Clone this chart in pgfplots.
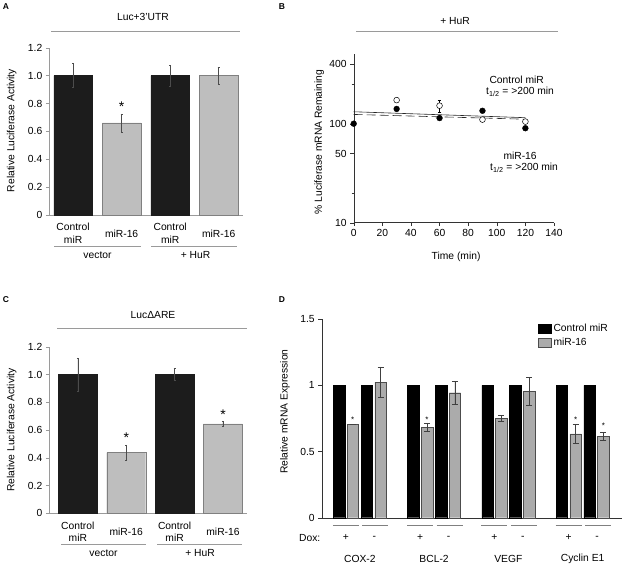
\documentclass[border=0pt]{standalone}
\usepackage{pgfplots}
\pgfplotsset{compat=1.18}
\usepackage{fontspec}
\setmainfont{Liberation Sans}
\definecolor{barblk}{HTML}{1C1C1C}
\definecolor{bargry}{HTML}{BEBEBE}
\definecolor{bargryD}{HTML}{ABABAB}
\definecolor{axgry}{HTML}{9A9A9A}
\newcommand{\fs}{\fontsize{10.3}{12.5}\selectfont}
\pgfplotsset{
  panel/.style={scale only axis, anchor=south west, axis x line*=bottom, axis y line*=left,
    clip=false, tick label style={font=\fs}, label style={font=\fs},
    /pgf/number format/assume math mode=true, tick align=outside, major tick length=3.5pt},
  sq legend/.style={legend image code/.code={\draw[##1] (0pt,-4.5pt) rectangle (13pt,4.5pt);}},
}
\begin{document}
\begin{tikzpicture}[x=1pt,y=1pt,font=\fs]
\useasboundingbox (0,0) rectangle (623,565);

% ---------------- Panel A ----------------
\begin{axis}[panel, at={(49.3pt,350pt)}, width=193.7pt, height=167.3pt,
  xmin=-0.49, xmax=3.5, ymin=0, ymax=1.2,
  ytick={0,0.2,0.4,0.6,0.8,1.0,1.2}, yticklabels={0,0.2,0.4,0.6,0.8,1.0,1.2},
  xtick={0,1,2,3}, xticklabels={{Control\\miR},{miR-16},{Control\\miR},{miR-16}},
  xticklabel style={align=center, anchor=center, yshift=-15pt},
  xtick style={draw=none}, ytick style={axgry},
  axis line style={axgry},
  ylabel={Relative Luciferase Activity},
  ylabel style={at={(axis description cs:-0.194,0.505)}, anchor=center}]
\addplot[ybar, bar width=38.5pt, bar shift=0pt, fill=barblk, draw=barblk,
  error bars/.cd, y dir=both, y explicit,
  error bar style={line width=0.5pt, black!70},
  error mark options={rotate=90, mark size=1pt, line width=0.5pt, black!70}]
  coordinates {(0,1.0) +- (0,0.085) (2,1.0) +- (0,0.075)};
\addplot[ybar, bar width=38.5pt, bar shift=0pt, fill=bargry, draw=gray,
  error bars/.cd, y dir=both, y explicit,
  error bar style={line width=0.5pt, black!70},
  error mark options={rotate=90, mark size=1pt, line width=0.5pt, black!70}]
  coordinates {(1,0.66) +- (0,0.065) (3,1.0) +- (0,0.06)};
\node[font=\fontsize{14}{14}\selectfont, anchor=base, yshift=-8pt] at (axis cs:1,0.80) {*};
\end{axis}

% ---------------- Panel B ----------------
\begin{axis}[panel, at={(353.7pt,342.3pt)}, width=200.3pt, height=168.2pt,
  ymode=log, xmin=0, xmax=140, ymin=10, ymax=500,
  xtick={0,20,40,60,80,100,120,140},
  ytick={10,50,100,400}, yticklabels={10,50,100,400},
  extra y ticks={20,250}, extra y tick labels={},
  extra y tick style={major tick length=2pt},
  axis line style={black!80}, tick style={black!80},
  xlabel={Time (min)},
  xlabel style={at={(axis description cs:0.511,-0.204)}, anchor=center},
  ylabel={\% Luciferase mRNA Remaining},
  ylabel style={at={(axis description cs:-0.172,0.48)}, anchor=center}]
\addplot[black!85, line width=0.6pt] coordinates {(0,132) (120,115)};
\addplot[black!85, line width=0.6pt, dash pattern=on 9pt off 4pt] coordinates {(0,124) (120,111)};
\addplot[only marks, mark=*, mark size=2.9pt, mark options={fill=white, draw=black, line width=0.5pt},
  error bars/.cd, y dir=both, y explicit,
  error bar style={line width=0.5pt, black},
  error mark options={rotate=90, mark size=1.8pt, line width=0.5pt, black}]
  coordinates {(30,173) +- (0,0) (60,152) +- (0,22) (90,110) +- (0,0) (120,105) +- (0,0)};
\addplot[only marks, mark=*, mark size=2.9pt, black] coordinates {(0,100) (30,141) (60,114) (90,135) (120,90)};
\end{axis}

% ---------------- Panel C ----------------
\begin{axis}[panel, at={(49.3pt,51.7pt)}, width=197.4pt, height=166.6pt,
  xmin=-0.59, xmax=3.49, ymin=0, ymax=1.2,
  ytick={0,0.2,0.4,0.6,0.8,1.0,1.2}, yticklabels={0,0.2,0.4,0.6,0.8,1.0,1.2},
  xtick={0,1,2,3}, xticklabels={{Control\\miR},{miR-16},{Control\\miR},{miR-16}},
  xticklabel style={align=center, anchor=center, yshift=-15pt},
  xtick style={draw=none}, ytick style={axgry},
  axis line style={axgry},
  ylabel={Relative Luciferase Activity},
  ylabel style={at={(axis description cs:-0.19,0.5)}, anchor=center}]
\addplot[ybar, bar width=39pt, bar shift=0pt, fill=barblk, draw=barblk,
  error bars/.cd, y dir=both, y explicit,
  error bar style={line width=0.5pt, black!70},
  error mark options={rotate=90, mark size=1pt, line width=0.5pt, black!70}]
  coordinates {(0,1.0) +- (0,0.12) (2,1.0) +- (0,0.045)};
\addplot[ybar, bar width=39pt, bar shift=0pt, fill=bargry, draw=gray,
  error bars/.cd, y dir=both, y explicit,
  error bar style={line width=0.5pt, black!70},
  error mark options={rotate=90, mark size=1pt, line width=0.5pt, black!70}]
  coordinates {(1,0.437) +- (0,0.055) (3,0.645) +- (0,0.02)};
\node[font=\fontsize{14}{14}\selectfont, anchor=base, yshift=-8pt] at (axis cs:1,0.564) {*};
\node[font=\fontsize{14}{14}\selectfont, anchor=base, yshift=-8pt] at (axis cs:3,0.732) {*};
\end{axis}

% ---------------- Panel D ----------------
\begin{axis}[panel, at={(321.7pt,47.3pt)}, width=300.3pt, height=198.4pt,
  xmin=-0.513, xmax=3.53, ymin=0, ymax=1.5,
  ytick={0,0.5,1,1.5}, yticklabels={0,0.5,1,1.5},
  xtick={0,1,2,3}, xticklabels={COX-2,BCL-2,VEGF,Cyclin E1},
  xticklabel style={anchor=center, yshift=-37.8pt},
  xtick style={draw=none}, ytick style={black!80},
  axis line style={black!80},
  ylabel={Relative mRNA Expression},
  ylabel style={at={(axis description cs:-0.122,0.535)}, anchor=center},
  legend style={draw=none, fill=none, at={(axis description cs:0.71,0.995)}, anchor=north west,
    font=\fs, row sep=1pt},
  legend cell align=left]
\addplot[ybar, bar width=11.5pt, bar shift=0pt, fill=black, draw=black, sq legend]
  coordinates {(-0.28,1) (0.095,1) (0.72,1) (1.095,1) (1.72,1) (2.095,1) (2.72,1) (3.095,1)};
\addlegendentry{Control miR}
\addplot[ybar, bar width=11.5pt, bar shift=0pt, fill=bargryD, draw=black!70, sq legend,
  error bars/.cd, y dir=both, y explicit,
  error bar style={line width=0.5pt, black!75},
  error mark options={rotate=90, mark size=3pt, line width=0.5pt, black!75}]
  coordinates {(-0.095,0.706) +- (0,0) (0.28,1.025) +- (0,0.115)
               (0.905,0.683) +- (0,0.03) (1.28,0.945) +- (0,0.09)
               (1.905,0.751) +- (0,0.02) (2.28,0.955) +- (0,0.105)
               (2.905,0.633) +- (0,0.07) (3.28,0.616) +- (0,0.03)};
\addlegendentry{miR-16}
\node[font=\fontsize{8}{8}\selectfont, anchor=base, yshift=-4.6pt] at (axis cs:-0.095,0.756) {*};
\node[font=\fontsize{8}{8}\selectfont, anchor=base, yshift=-4.6pt] at (axis cs:0.905,0.756) {*};
\node[font=\fontsize{8}{8}\selectfont, anchor=base, yshift=-4.6pt] at (axis cs:2.905,0.756) {*};
\node[font=\fontsize{8}{8}\selectfont, anchor=base, yshift=-4.6pt] at (axis cs:3.28,0.706) {*};
\end{axis}

% ---------------- Decorations ----------------
\tikzset{lab/.style={font=\bfseries\fontsize{8.5}{10}\selectfont}}
\node[lab] at (6,558) {A};
\node[lab] at (282,558) {B};
\node[lab] at (6,265) {C};
\node[lab] at (282,265) {D};

% titles
\node at (143,548) {Luc+3’UTR};
\draw[axgry, line width=0.8pt] (51,534) -- (240,534);
\node at (455,544) {+ HuR};
\draw[axgry, line width=0.8pt] (356,533.3) -- (558,533.3);
\node at (153,250) {LucΔARE};
\draw[axgry, line width=0.8pt] (57,236.7) -- (247,236.7);

% group lines A
\draw[axgry, line width=0.8pt] (54,319) -- (141,319);
\draw[axgry, line width=0.8pt] (151,319) -- (237,319);
\node at (97.5,310) {vector};
\node at (195.5,310) {+ HuR};
% group lines C
\draw[axgry, line width=0.8pt] (61,21) -- (146,21);
\draw[axgry, line width=0.8pt] (157,21) -- (242,21);
\node at (103.5,11.7) {vector};
\node at (200,11.7) {+ HuR};

% B annotations
\node[anchor=west, inner sep=0pt] at (489.3,485) {Control miR};
\node[anchor=west, inner sep=0pt] at (486,473.3) {t\textsubscript{1/2} = >200 min};
\node[anchor=west, inner sep=0pt] at (503.3,409) {miR-16};
\node[anchor=west, inner sep=0pt] at (490,397.3) {t\textsubscript{1/2} = >200 min};

% D Dox rows
\node[anchor=east, inner sep=0pt] at (320.5,27.2) {Dox:};
\foreach \c in {359.8,434.1,508.3,582.6}{
  \draw[gray, line width=1.2pt] (\c-27,39.5) -- (\c-1,39.5);
  \draw[gray, line width=1.2pt] (\c+2.5,39.5) -- (\c+28.5,39.5);
  \node at (\c-14,27.5) {+};
  \node at (\c+14.5,27.5) {-};
}
\end{tikzpicture}
\end{document}
